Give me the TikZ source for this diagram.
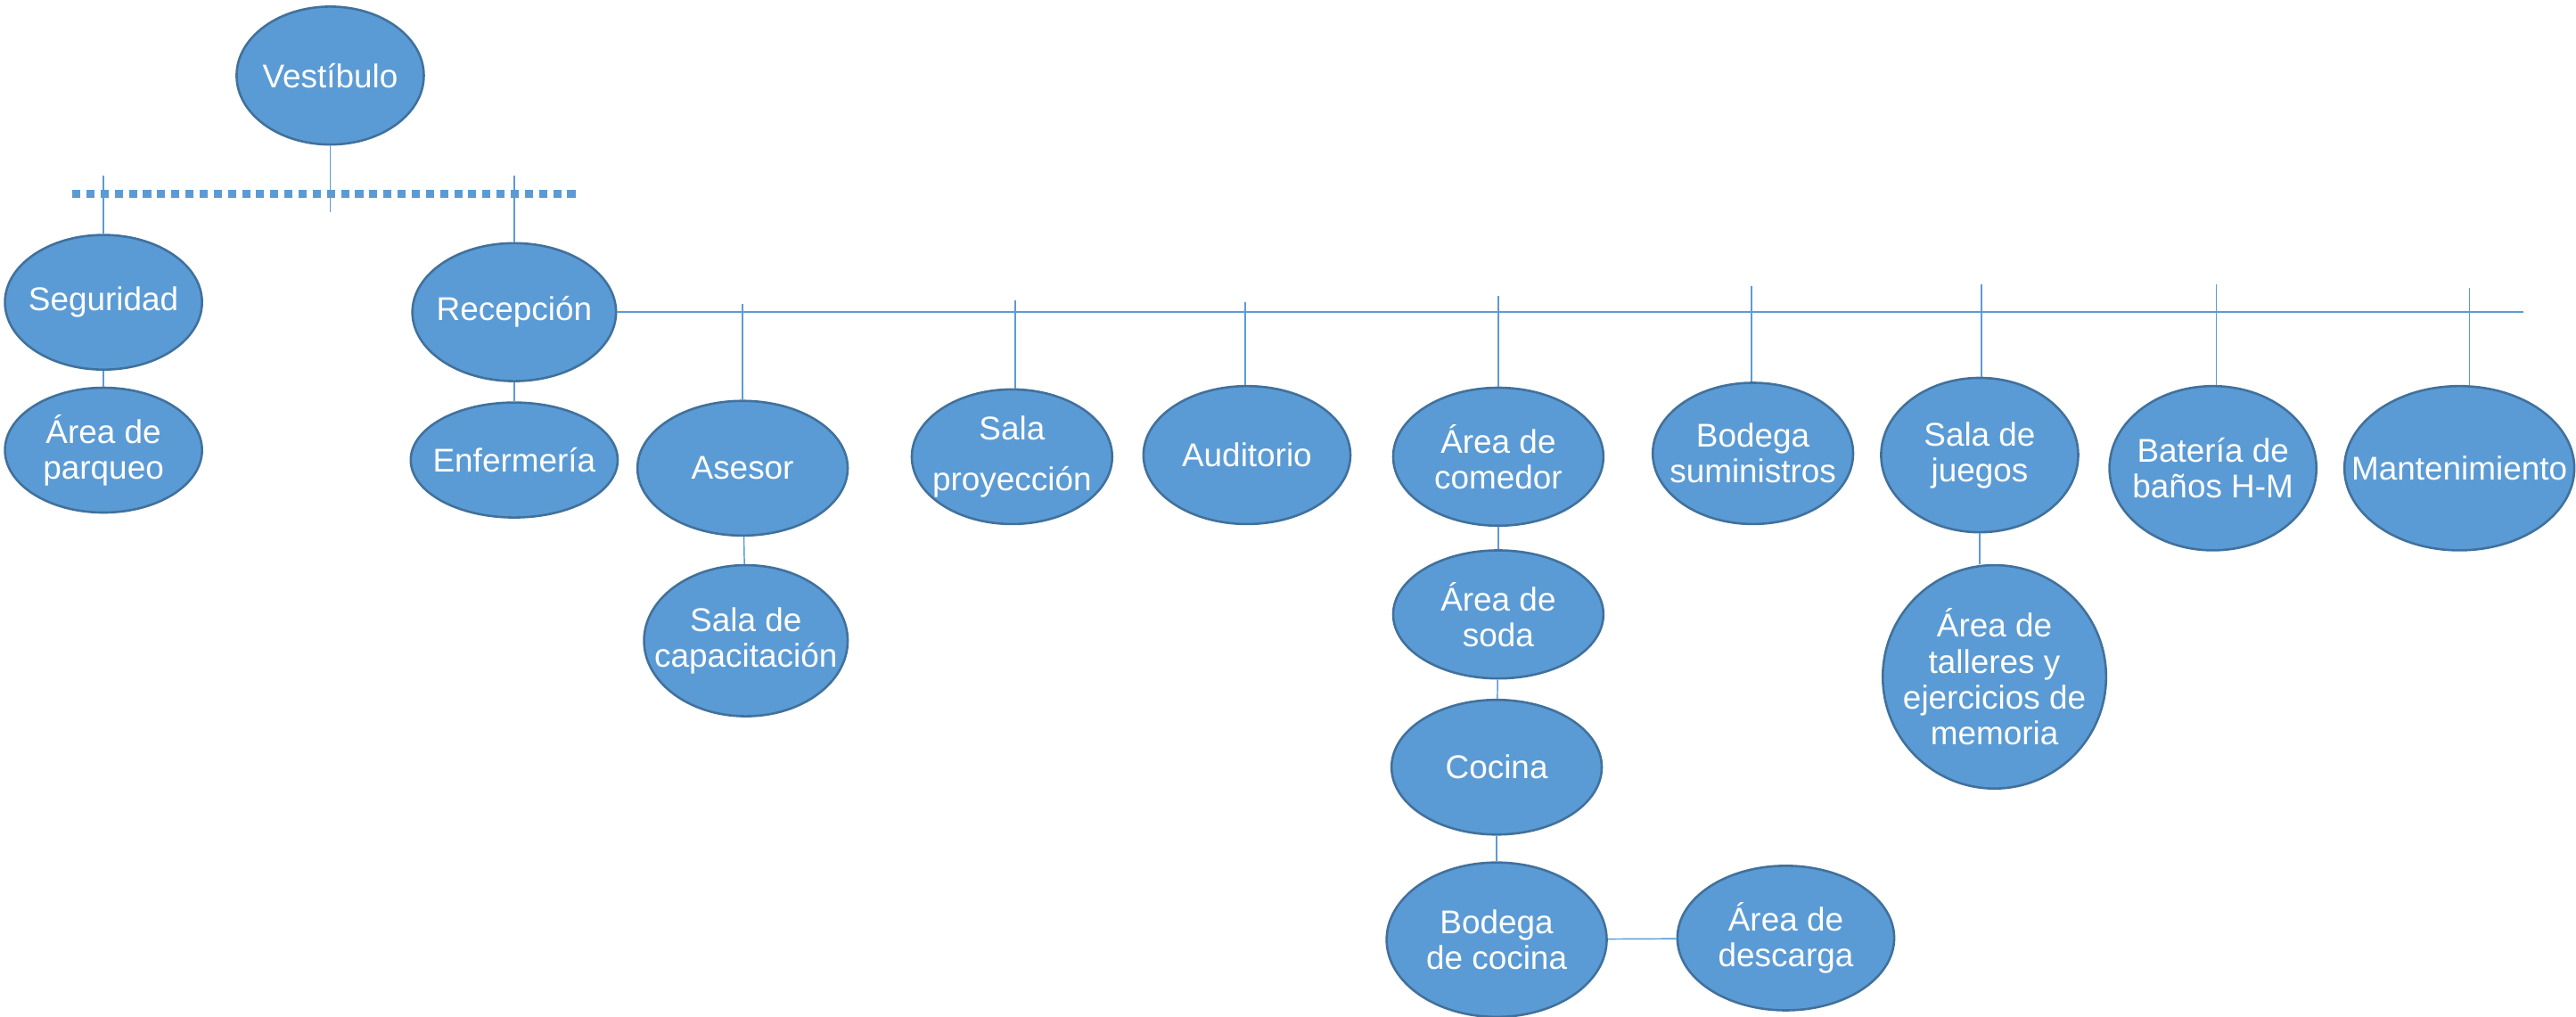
\documentclass[tikz,border=0pt]{standalone}
\usepackage{fontspec}
\setmainfont{Liberation Sans}
\usetikzlibrary{shapes.geometric}
\definecolor{salafill}{RGB}{91,155,213}
\definecolor{salaborde}{RGB}{65,113,156}
\definecolor{linea}{RGB}{91,155,213}

\begin{document}
\begin{tikzpicture}[
    x=0.02cm, y=-0.02cm,
    sala/.style n args={2}{ellipse,draw=salaborde,fill=salafill,line width=0.8pt,
      inner sep=0pt,minimum width=#1*0.04cm,minimum height=#2*0.04cm},
    every label/.style={text=white,align=center,inner sep=0pt,
      font=\fontsize{11.4}{12.4}\selectfont},
    link/.style={draw=linea,line width=0.45pt},
    eje/.style={draw=linea,line width=2.5pt,dash pattern=on 2.8pt off 2.1pt}
  ]
    \useasboundingbox (0,0) rectangle (1568,619);

    % vestibulo y primer nivel
    \node[sala={57}{42},label={center:Vestíbulo}] (vest) at (201,46) {};
    \coordinate (vbase) at (201,129);
    \coordinate (dotL) at (44,118);
    \coordinate (dotR) at (352,118);
    \coordinate (dtop) at (0,107);
    \draw[link] (vest) -- (vbase);
    \draw[eje] (dotL) -- (dotR);

    \node[sala={60}{41},label={center:Seguridad}] (segur) at (63,184) {};
    \node[sala={60}{38},label={center:{Área de\\parqueo}}] (parqueo) at (63,274) {};
    \node[sala={62}{42},label={center:Recepción}] (recep) at (313,190) {};
    \node[sala={63}{35},label={center:Enfermería}] (enfer) at (313,280) {};

    \draw[link] (segur.north) -- (segur.north |- dtop);
    \draw[link] (recep.north) -- (recep.north |- dtop);
    \draw[link] (segur) -- (parqueo);
    \draw[link] (recep) -- (enfer);

    % barra de recepcion
    \coordinate (busend) at (1536,190);
    \draw[link] (recep.east) -- (busend);

    \node[sala={64}{41},label={center:Asesor}] (asesor) at (452,285) {};
    \node[sala={62}{46},label={center:{Sala de\\capacitación}}] (capac) at (454,390) {};
    \node[sala={61}{41},label={center:{Sala\\[5pt]proyección}}] (proyec) at (616,278) {};
    \node[sala={63}{42},label={center:Auditorio}] (audit) at (759,277) {};
    \node[sala={64}{42},label={center:{Área de\\comedor}}] (comedor) at (912,278) {};
    \node[sala={64}{39},label={center:{Área de\\soda}}] (soda) at (912,374) {};
    \node[sala={64}{41},label={center:Cocina}] (cocina) at (911,467) {};
    \node[sala={67}{47},label={center:{Bodega\\de cocina}}] (bodcoc) at (911,572) {};
    \node[sala={66}{44},label={center:{Área de\\descarga}}] (descarga) at (1087,571) {};
    \node[sala={61}{43},label={center:{Bodega\\suministros}}] (bodsum) at (1067,276) {};
    \node[sala={60}{47},label={center:{Sala de\\juegos}}] (juegos) at (1205,277) {};
    \node[sala={68}{68},label={center:{Área de\\talleres y\\ejercicios de\\memoria}}] (talleres) at (1214,412) {};
    \node[sala={63}{50},label={center:{Batería de\\baños H-M}}] (banos) at (1347,285) {};
    \node[sala={70}{50},label={center:Mantenimiento}] (mant) at (1497,285) {};

    \foreach \n/\x/\t in {asesor/452/185,proyec/618/183,audit/758/184,comedor/912/180,
        bodsum/1066/174,juegos/1206/173,banos/1349/173,mant/1503/175}{
      \coordinate (\n-top) at (\x,\t);
      \draw[link] (\n-top) -- (\n-top |- \n.north);
    }

    \draw[link] (asesor) -- (capac);
    \draw[link] (comedor) -- (soda);
    \draw[link] (soda) -- (cocina);
    \draw[link] (cocina) -- (bodcoc);
    \draw[link] (bodcoc) -- (descarga);
    \draw[link] (juegos.south) -- (juegos.south |- talleres.north);
\end{tikzpicture}
\end{document}
